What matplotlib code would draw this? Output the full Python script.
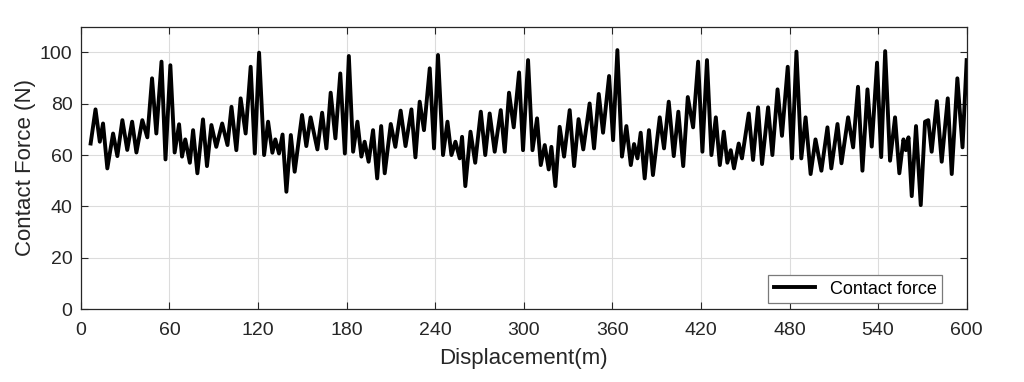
import matplotlib
matplotlib.use("Agg")
import matplotlib.pyplot as plt

# extrema of the contact-force trace
displacement = [
    6.6, 9.9, 12.8, 15.0, 17.9, 21.8, 24.7, 28.1, 31.4, 34.7, 37.6, 41.6, 45.0, 48.2,
    51.1, 54.6, 57.3, 60.6, 63.5, 66.5, 68.5, 70.7, 73.8, 76.0, 78.9, 82.7, 85.4, 88.4,
    91.7, 95.7, 99.3, 102.0, 105.3, 108.2, 111.6, 115.0, 117.8, 120.7, 124.1, 126.8,
    129.7, 131.7, 134.2, 136.6, 139.2, 142.2, 144.8, 149.8, 152.7, 155.6, 160.2, 163.4,
    166.3, 169.2, 172.4, 175.7, 178.8, 181.5, 184.4, 187.3, 190.0, 192.2, 194.9, 197.9,
    200.7, 203.4, 205.8, 209.9, 213.0, 216.6, 219.9, 223.9, 226.6, 229.5, 232.4, 236.3,
    239.2, 241.9, 245.3, 248.3, 251.0, 253.7, 256.6, 258.2, 260.4, 263.9, 267.1, 270.9,
    273.9, 276.9, 280.3, 284.4, 287.1, 290.0, 293.2, 296.8, 299.5, 302.9, 305.9, 309.0,
    311.5, 314.2, 316.9, 318.7, 321.4, 324.3, 327.3, 331.1, 334.1, 337.1, 340.3, 344.6,
    347.6, 350.8, 353.7, 357.8, 360.5, 363.4, 366.5, 369.5, 372.5, 374.7, 377.0, 379.2,
    381.9, 384.8, 387.5, 392.1, 395.0, 398.2, 401.6, 404.7, 408.0, 411.1, 414.7, 418.1,
    421.0, 424.1, 427.1, 430.1, 432.8, 435.5, 437.9, 440.2, 442.4, 445.6, 447.8, 452.4,
    455.3, 458.7, 461.4, 465.5, 468.4, 471.9, 474.9, 478.8, 481.7, 484.7, 488.0, 490.9,
    494.3, 497.6, 501.6, 505.7, 508.3, 512.5, 515.2, 519.7, 523.1, 526.4, 529.4, 532.8,
    535.7, 539.3, 542.1, 544.8, 548.1, 551.5, 554.4, 557.2, 558.8, 560.6, 562.8, 565.7,
    568.9, 571.8, 574.0, 576.3, 579.8, 583.1, 587.2, 589.9, 593.7, 597.2, 600.0,
]
force = [
    64.5, 77.8, 65.2, 72.3, 54.8, 68.4, 59.6, 73.6, 62.0, 73.0, 61.0, 73.6, 66.9, 89.9,
    68.4, 96.4, 58.3, 95.0, 61.0, 72.0, 59.4, 66.1, 57.0, 69.7, 52.9, 73.9, 55.7, 71.7,
    63.2, 72.3, 63.9, 78.8, 61.9, 82.1, 68.4, 94.4, 60.6, 99.9, 60.0, 73.0,
    60.9, 66.1, 60.6, 68.0, 45.7, 67.8, 53.5, 75.6, 63.5, 74.7, 62.2, 76.5,
    62.6, 84.3, 66.5, 91.8, 60.6, 98.6, 61.3, 73.0, 59.4, 65.2, 57.4, 69.7,
    50.9, 71.3, 52.9, 72.1, 63.2, 77.3, 63.5, 77.8, 59.1, 80.8, 69.7, 93.8,
    62.6, 99.0, 60.0, 73.0, 60.0, 65.2, 58.7, 67.1, 47.9, 69.1, 57.0, 76.9,
    60.0, 76.2, 61.3, 77.5, 61.3, 84.3, 70.8, 92.2, 61.9, 97.0, 61.9, 74.3,
    56.1, 63.9, 54.4, 63.2, 47.9, 71.0, 59.4, 77.5, 55.7, 74.0, 62.2, 80.1,
    62.6, 83.8, 68.7, 90.8, 65.8, 100.9, 59.4, 71.3, 56.1, 64.3, 58.7, 68.7,
    50.9, 69.7, 52.2, 74.7, 62.6, 80.8, 59.6, 76.9, 55.7, 82.6, 70.8, 96.4,
    61.3, 97.0, 60.0, 74.7, 56.1, 69.1, 57.0, 61.9, 54.8, 64.5, 58.7, 76.2,
    58.1, 78.6, 56.5, 78.6, 60.0, 85.6, 67.5, 94.4, 58.7, 100.3, 58.7, 74.7,
    52.6, 66.1, 53.9, 70.8, 54.8, 72.1, 56.8, 74.7, 63.0, 86.6, 53.9, 85.6,
    63.3, 96.0, 59.2, 100.5, 57.8, 74.7, 52.9, 66.1, 61.9, 66.9, 44.0, 71.3,
    40.5, 73.0, 73.6, 61.3, 81.0, 57.4, 82.1, 52.6, 89.9, 63.0, 97.0,
]

x_ticks = list(range(0, 601, 60))
y_ticks = list(range(0, 101, 20))

plt.rcParams["font.family"] = ["Liberation Sans", "DejaVu Sans"]

fig = plt.figure(figsize=(10.24, 3.82), dpi=100)
ax = fig.add_axes([0.079, 0.191, 0.865, 0.739])

ax.plot(displacement, force, color="black", linewidth=2.8,
        solid_joinstyle="round", label="Contact force")

ax.set_xlim(0, 600)
ax.set_ylim(0, 110)
ax.set_xticks(x_ticks)
ax.set_yticks(y_ticks)
ax.grid(True, color="#dcdcdc", linewidth=0.8)
ax.set_axisbelow(True)
ax.tick_params(direction="in", top=True, right=True, length=5,
               labelsize=14, color="#262626", labelcolor="#262626")
ax.tick_params(axis="x", pad=9)
ax.tick_params(axis="y", pad=6)
for s in ax.spines.values():
    s.set_color("#262626")
    s.set_linewidth(0.9)

ax.set_xlabel("Displacement(m)", fontsize=16, color="#262626", labelpad=7)
ax.set_ylabel("Contact Force (N)", fontsize=16, color="#262626", labelpad=3)

leg = ax.legend(loc="lower right", fontsize=13, fancybox=False, framealpha=1,
                edgecolor="#7a7a7a", borderpad=0.3, handlelength=2.3,
                borderaxespad=0, bbox_to_anchor=(0.972, 0.021))
leg.get_frame().set_linewidth(0.9)

fig.savefig("out.png", dpi=100)
